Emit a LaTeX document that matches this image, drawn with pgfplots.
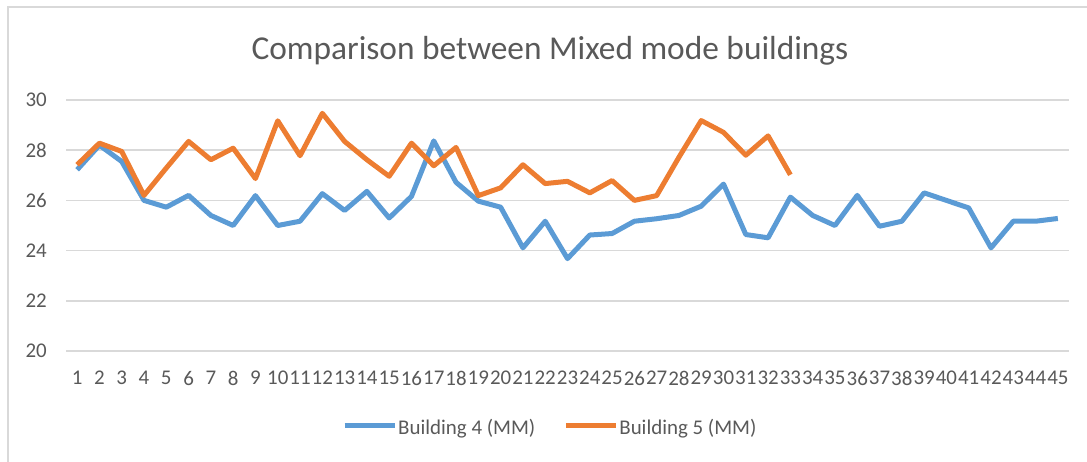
\documentclass[border=0pt]{standalone}
\usepackage{pgfplots}
\pgfplotsset{compat=1.18}
\usepackage{fontspec}
\setmainfont{Carlito}
\definecolor{bblue}{HTML}{5B9BD5}
\definecolor{borange}{HTML}{ED7D31}
\definecolor{gridgray}{HTML}{D9D9D9}
\definecolor{textgray}{HTML}{595959}
\begin{document}
\begin{tikzpicture}
\path[use as bounding box] (0bp,0bp) rectangle (1087bp,462bp);
\draw[gridgray, line width=1.5bp] (8bp,0bp) -- (8bp,455bp) -- (1087bp,455bp);
\node[anchor=base, font=\fontsize{33.5}{40}\selectfont, text=textgray, inner sep=0pt] at (550bp,402bp) {Comparison between Mixed mode buildings};
\begin{axis}[
  at={(66bp,111bp)}, anchor=south west,
  scale only axis, width=1003bp, height=251bp,
  xmin=0.5, xmax=45.5, ymin=20, ymax=30,
  xtick={1,...,45}, ytick={20,22,...,30},
  /pgf/number format/assume math mode=true,
  axis line style={draw=none},
  major tick length=0pt,
  ymajorgrids, grid style={gridgray, line width=1.5bp},
  xticklabel style={font=\fontsize{21}{25}\selectfont, text=textgray, inner sep=0pt, anchor=north, yshift=-20bp},
  yticklabel style={font=\fontsize{21}{25}\selectfont, text=textgray, inner sep=0pt, anchor=east, xshift=-19bp},
  legend columns=2,
  legend cell align=left,
  legend style={at={(0.2752,-0.3068)}, anchor=west, draw=none, fill=none, inner sep=0pt,
    font=\fontsize{21}{25}\selectfont, text=textgray,
    nodes={inner sep=0pt},
    /tikz/every odd column/.append style={column sep=1bp},
    /tikz/every even column/.append style={column sep=28bp}},
  legend image code/.code={\draw[#1] (0bp,0.3em) -- (50bp,0.3em);},
]
\addplot[bblue, line width=5bp, line join=round] coordinates {
(1,27.22) (2,28.2) (3,27.55) (4,26.0) (5,25.73) (6,26.2) (7,25.4) (8,25.0) (9,26.19) (10,25.0)
(11,25.17) (12,26.27) (13,25.6) (14,26.36) (15,25.3) (16,26.16) (17,28.37) (18,26.72) (19,25.97) (20,25.73)
(21,24.11) (22,25.17) (23,23.68) (24,24.62) (25,24.68) (26,25.17) (27,25.27) (28,25.4) (29,25.77) (30,26.65)
(31,24.64) (32,24.51) (33,26.13) (34,25.4) (35,25.0) (36,26.2) (37,24.97) (38,25.17) (39,26.3) (40,26.0)
(41,25.7) (42,24.11) (43,25.17) (44,25.17) (45,25.28)
};
\addlegendentry{Building 4 (MM)}
\addplot[borange, line width=5bp, line join=round] coordinates {
(1,27.42) (2,28.28) (3,27.95) (4,26.2) (5,27.29) (6,28.35) (7,27.62) (8,28.08) (9,26.87) (10,29.17)
(11,27.78) (12,29.47) (13,28.35) (14,27.62) (15,26.96) (16,28.28) (17,27.38) (18,28.11) (19,26.19) (20,26.5)
(21,27.42) (22,26.67) (23,26.76) (24,26.3) (25,26.79) (26,26.0) (27,26.19) (28,27.72) (29,29.18) (30,28.71)
(31,27.8) (32,28.57) (33,27.02)
};
\addlegendentry{Building 5 (MM)}
\end{axis}
\end{tikzpicture}
\end{document}
